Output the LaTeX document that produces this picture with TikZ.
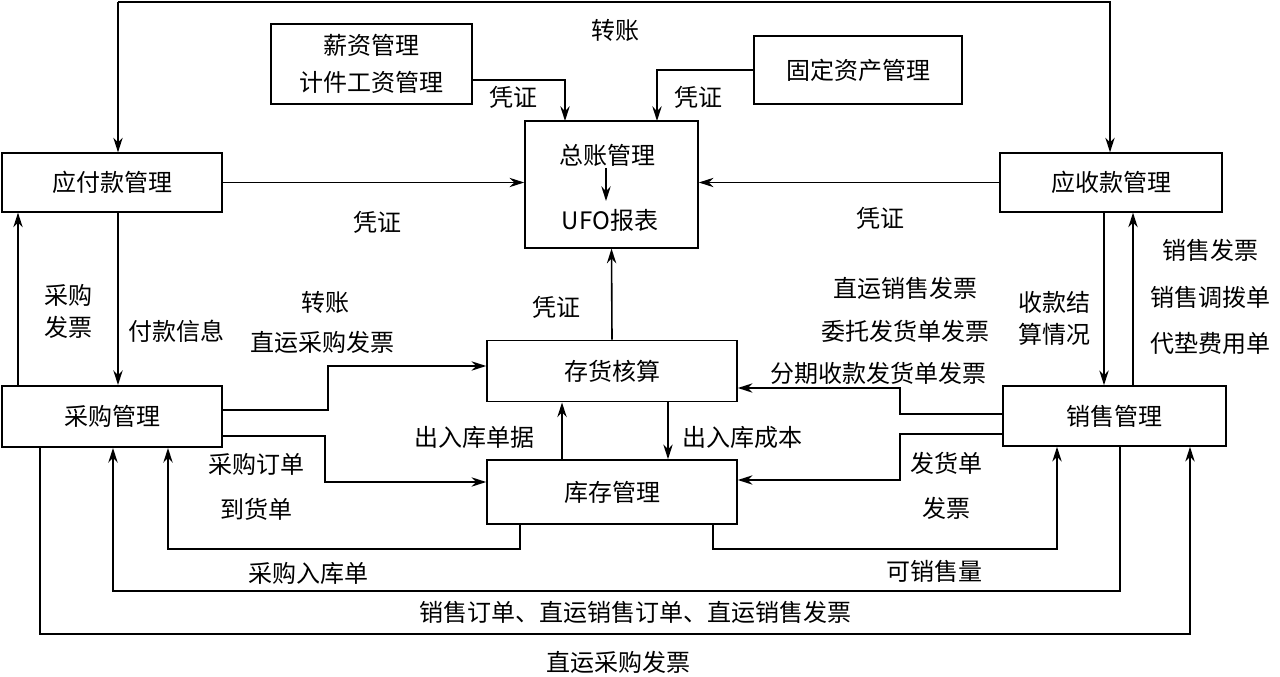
\documentclass[tikz,border=0pt]{standalone}
\usepackage{fontspec}
\setmainfont{Liberation Serif}
\newfontfamily\cjk{Noto Sans CJK SC}
\usetikzlibrary{arrows.meta}
\begin{document}
\begin{tikzpicture}[x=0.75pt,y=-0.75pt,
  box/.style={draw,line width=1.2pt,minimum width=#1*0.75pt,inner sep=0pt},
  lab/.style={font=\cjk\fontsize{18}{24}\selectfont,align=center,inner sep=0pt},
  ar/.style={line width=1.2pt,-{Stealth[length=11pt,width=7pt]}},
  ln/.style={line width=1.2pt}]
\useasboundingbox (0,0) rectangle (1280,677);
\node[box=201,minimum height=60pt,lab,font=\cjk\fontsize{18}{28}\selectfont] (xz) at (371.5,64) {薪资管理\\计件工资管理};
\node[box=208,minimum height=51pt,lab] (gd) at (858,70) {固定资产管理};
\node[box=173,minimum height=95pt] (zz) at (611.5,184.5) {};
\node[lab] (zzt) at (607,155) {总账管理};
\node[lab] (ufo) at (610,220) {UFO报表};
\draw[ar,line width=1pt] (606,168) -- (606,201);
\node[box=220,minimum height=44pt,lab] (yf) at (112,182.5) {应付款管理};
\node[box=222,minimum height=44pt,lab] (ys) at (1111,182.5) {应收款管理};
\node[box=250,minimum height=46pt,lab] (ch) at (612,371) {存货核算};
\node[box=250,minimum height=48pt,lab] (kc) at (612,492) {库存管理};
\node[box=220,minimum height=46pt,lab] (cg) at (112,416.5) {采购管理};
\node[box=223,minimum height=45pt,lab] (xs) at (1114.5,416) {销售管理};
\coordinate (t1) at (118,2); \coordinate (t2) at (1110,2);
\draw[ar] (t1) -- (yf.north -| t1);
\draw[ar] (t1) -- (t2) -- (ys.north -| t2);
\node[lab] at (615,30) {转账};
\draw[ar] (xz.east |- 0,80) -| (565,121);
\node[lab] at (513,97) {凭证};
\draw[ar] (gd.west |- 0,70) -| (657,121);
\node[lab] at (698,97) {凭证};
\draw[ar] (yf.east) -- (zz.west |- yf.east);
\node[lab] at (377,222) {凭证};
\draw[ar] (ys.west) -- (zz.east |- ys.west);
\node[lab] at (880,218) {凭证};
\draw[ar] (ch.north) -- (zz.south);
\node[lab] at (556,307) {凭证};
\draw[ar] (cg.north -| 18,0) -- (yf.south -| 18,0);
\node[lab] at (68,311) {采购\\发票};
\draw[ar] (yf.south -| 118,0) -- (cg.north -| 118,0);
\node[lab] at (176,331) {付款信息};
\draw[ar] (ys.south -| 1104,0) -- (xs.north -| 1104,0);
\node[lab] at (1054,318) {收款结\\算情况};
\draw[ar] (xs.north -| 1133,0) -- (ys.south -| 1133,0);
\node[lab,font=\cjk\fontsize{18}{35}\selectfont] at (1210,297) {销售发票\\销售调拨单\\代垫费用单};
\draw[ar] (cg.east |- 0,410) -- (328,410) -- (328,366) -- (ch.west |- 0,366);
\node[lab] at (325,302) {转账};
\node[lab] at (322,342) {直运采购发票};
\draw[ar] (xs.west |- 0,414) -- (900,414) -- (900,388) -- (ch.east |- 0,388);
\node[lab,font=\cjk\fontsize{18}{32}\selectfont] at (905,331) {直运销售发票\\委托发货单发票\\\hspace*{-40pt}分期收款发货单发票};
\draw[ar] (cg.east |- 0,436) -- (325,436) -- (325,482) -- (kc.west |- 0,482);
\node[lab,font=\cjk\fontsize{18}{34}\selectfont] at (256,487) {采购订单\\到货单};
\draw[ar] (xs.west |- 0,434) -- (900,434) -- (900,480) -- (kc.east |- 0,480);
\node[lab,font=\cjk\fontsize{18}{34}\selectfont] at (946,486) {发货单\\发票};
\draw[ar] (kc.north -| 562,0) -- (ch.south -| 562,0);
\node[lab] at (474,437) {出入库单据};
\draw[ar] (ch.south -| 668,0) -- (kc.north -| 668,0);
\node[lab] at (742,437) {出入库成本};
\draw[ar] (kc.south -| 520,0) -- (520,549) -- (168,549) -- (cg.south -| 168,0);
\node[lab] at (308,573) {采购入库单};
\draw[ar] (kc.south -| 713,0) -- (713,549) -- (1057,549) -- (xs.south -| 1057,0);
\node[lab] at (934,571) {可销售量};
\draw[ar] (xs.south -| 1120,0) -- (1120,591) -- (113,591) -- (cg.south -| 113,0);
\node[lab] at (635,612) {销售订单、直运销售订单、直运销售发票};
\draw[ar] (cg.south -| 40,0) -- (40,634) -- (1190,634) -- (xs.south -| 1190,0);
\node[lab] at (618,662) {直运采购发票};
\end{tikzpicture}
\end{document}
